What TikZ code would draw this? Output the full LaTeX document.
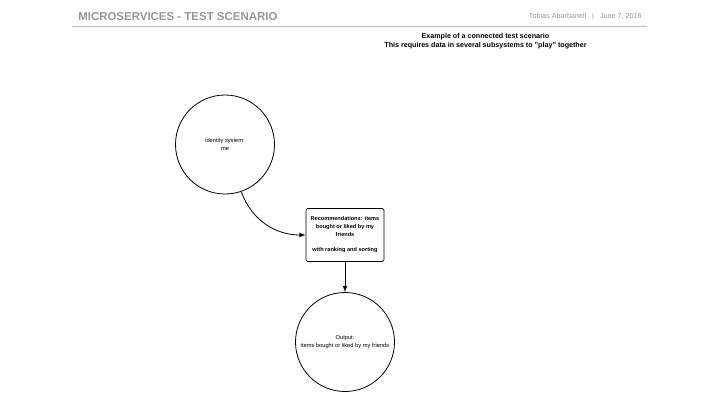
\documentclass[tikz,border=0pt]{standalone}
\usepackage{fontspec}
\setmainfont{Liberation Sans}
\usepackage{xcolor}
\usetikzlibrary{positioning}

\definecolor{headgray}{RGB}{150,150,150}
\definecolor{rulegray}{RGB}{190,190,190}

\tikzset{
  sysnode/.style={draw, circle, line width=0.6pt, minimum size=74.25pt, inner sep=0pt, align=center, font=\fontsize{4.3}{5.6}\selectfont},
  recbox/.style={draw, rounded corners=1.2pt, line width=0.6pt, minimum width=58.5pt, minimum height=39.75pt, inner sep=1pt, align=center, font=\bfseries\fontsize{4.2}{5.8}\selectfont},
  flow/.style={line width=0.6pt, -latex}
}

\begin{document}
\begin{tikzpicture}[x=0.75pt,y=0.75pt,yscale=-1,xscale=1]

\useasboundingbox (0,0) rectangle (720,405);

% header
\draw (78,17) node [anchor=west, inner sep=0pt, text=headgray, font=\bfseries\fontsize{8.6}{10}\selectfont] (title) {MICROSERVICES - TEST SCENARIO};
\draw (642,17) node [anchor=east, inner sep=0pt, text=headgray, font=\fontsize{5.4}{6.5}\selectfont] (author) {Tobias Abarbanell \ \ | \ \ June 7, 2016};
\draw [rulegray, line width=0.6pt] (72,26.5) -- (647,26.5);

\draw (485.5,41.5) node [inner sep=0pt, align=center, font=\bfseries\fontsize{5.35}{6.9}\selectfont] (subtitle) {Example of a connected test scenario\\This requires data in several subsystems to "play" together};

% systems
\node [sysnode] (identity) at (225,144.5) {identity system:\\me};
\node [recbox] (recs) at (345,235) {Recommendations: items\\bought or liked by my\\friends\\[5.8pt]with ranking and sorting};
\node [sysnode] (output) at (345,342) {Output:\\items bought or liked by my friends};

% connectors
\draw [flow] (identity.-71) to [out=70, in=180] (recs.west);
\draw [flow] (recs.south) -- (output.north);

\end{tikzpicture}
\end{document}
